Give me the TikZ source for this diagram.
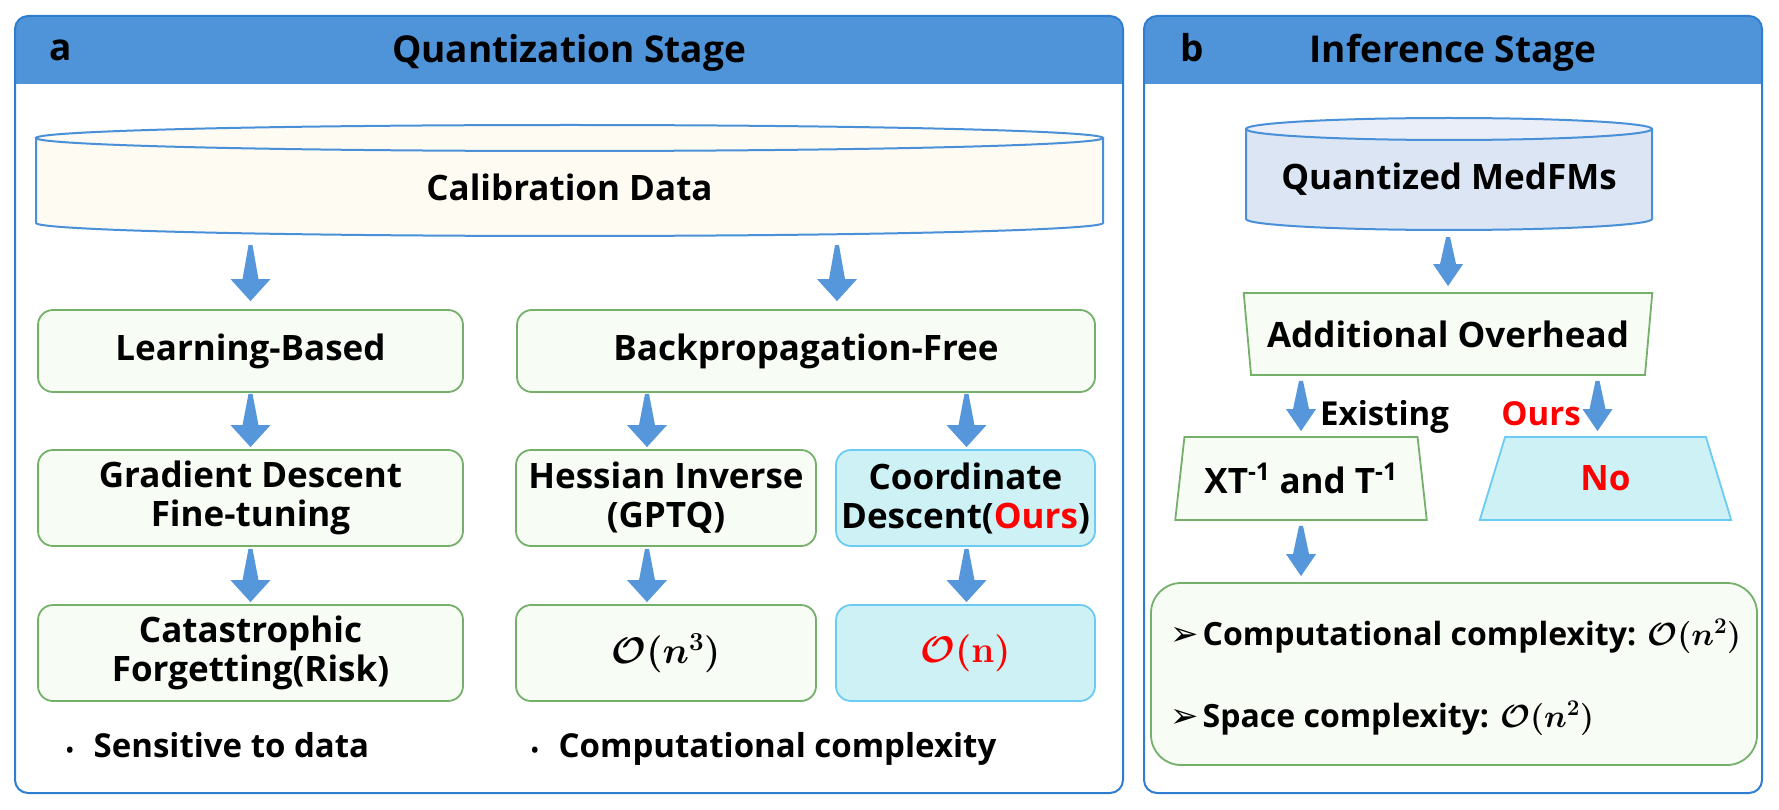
\RequirePackage{fix-cm}
\documentclass[tikz,border=0pt]{standalone}
\usepackage[no-math]{fontspec}
\setmainfont{Open Sans}
\newfontfamily\symfont{DejaVu Sans}
\usetikzlibrary{shapes.geometric,calc}

\definecolor{hdrblue}{HTML}{4F94D8}
\definecolor{frameblue}{HTML}{2E7DD0}
\definecolor{cylline}{HTML}{4A90D9}
\definecolor{calibfill}{HTML}{FEFBF3}
\definecolor{medfill}{HTML}{DBE5F4}
\definecolor{medtop}{HTML}{E9EEF8}
\definecolor{boxgreen}{HTML}{74B06A}
\definecolor{boxfill}{HTML}{F7FCF5}
\definecolor{cyanline}{HTML}{6CCBF2}
\definecolor{cyanfill}{HTML}{CDF1F4}
\definecolor{flowblue}{HTML}{5597DA}
\definecolor{oursred}{HTML}{FF0000}

\tikzset{
	panel/.style={draw=frameblue, line width=2pt, rounded corners=13pt},
	cyl/.style={draw=cylline, line width=2pt},
	txt/.style={font=\fontsize{35}{39}\selectfont\bfseries, align=center, inner sep=0pt},
	ttl/.style={font=\fontsize{37}{40}\selectfont\bfseries, inner sep=0pt, anchor=base},
	stagebox/.style={txt, draw=boxgreen, fill=boxfill, line width=1.8pt, rounded corners=15pt, minimum width=425pt, minimum height=96pt},
	oursbox/.style={stagebox, draw=cyanline, fill=cyanfill},
	trap/.style={txt, trapezium, trapezium left angle=76, trapezium right angle=76, trapezium stretches=true, minimum width=252pt, minimum height=83pt, draw=boxgreen, fill=boxfill, line width=1.8pt},
	itm/.style={font=\fontsize{33}{36}\selectfont\bfseries\boldmath, anchor=base west, inner sep=0pt},
	cost/.style={font=\fontsize{37}{40}\selectfont\boldmath},
}

\newcommand{\flow}[3][20pt]{%
	\fill[flowblue] let \p1=(#2), \p2=(#3) in
		(\x2-2pt,\y1) -- (\x2+2pt,\y1) -- (\x2+8pt,\y2+22pt) -- (\x2+#1,\y2+22pt)
		-- (\x2,\y2) -- (\x2-#1,\y2+22pt) -- (\x2-8pt,\y2+22pt) -- cycle;}
\newcommand{\tip}{{\symfont\fontsize{34}{34}\selectfont ➢}\hspace{4pt}}

\begin{document}
\begin{tikzpicture}[x=1pt, y=-1pt]
	\useasboundingbox (0,0) rectangle (1779,810);
	
	\fill[hdrblue] (15,84) [rounded corners=13pt] -- (15,16) -- (1123,16) [sharp corners] -- (1123,84) -- cycle;
	\draw[panel] (15,16) rectangle (1123,793);
	\node[ttl, anchor=base west] (la) at (49,61) {a};
	\node[ttl] (ta) at (569,63) {Quantization Stage};
	
	\fill[hdrblue] (1144,84) [rounded corners=13pt] -- (1144,16) -- (1762,16) [sharp corners] -- (1762,84) -- cycle;
	\draw[panel] (1144,16) rectangle (1762,793);
	\node[ttl, anchor=base west] (lb) at (1180,62) {b};
	\node[ttl] (tb) at (1453,63) {Inference Stage};
	
	\filldraw[cyl, fill=calibfill] (36,138) -- (36,223) arc[start angle=180, end angle=360, x radius=533.5pt, y radius=13pt] -- (1103,138) -- cycle;
	\filldraw[cyl, fill=calibfill] (569.5,138) ellipse[x radius=533.5pt, y radius=13pt];
	\node[inner sep=0pt, minimum width=1067pt, minimum height=112pt] (calib) at (569.5,181) {};
	\node[txt] (calibtxt) at ($(calib.center)+(0,6)$) {Calibration Data};
	
	\node[stagebox, minimum height=82pt] (learn) at (250.5,351) {Learning-Based};
	\node[stagebox, minimum width=578pt, minimum height=82pt] (bpf) at (806,351) {Backpropagation-Free};
	\node[stagebox] (grad) at (250.5,498) {Gradient Descent\\Fine-tuning};
	\node[stagebox, minimum width=300pt] (hess) at (666,498) {Hessian Inverse\\(GPTQ)};
	\node[oursbox, minimum width=259pt] (coord) at (965.5,498) {Coordinate\\Descent(\textcolor{oursred}{Ours})};
	\node[stagebox] (cata) at (250.5,653) {Catastrophic\\Forgetting(Risk)};
	\node[stagebox, minimum width=300pt, cost] (cubic) at (666,653) {$\mathcal{O}(n^3)$};
	\node[oursbox, minimum width=259pt, cost] (linear) at (965.5,653) {\textcolor{oursred}{$\mathcal{O}(\mathbf{n})$}};
	
	\flow{$(calib.south)+(0,8)$}{$(learn.north)+(0,-8)$}
	\flow{$(calib.south)+(0,8)$}{$(bpf.north)+(31,-8)$}
	\flow{$(learn.south)+(0,1)$}{$(grad.north)+(0,-2)$}
	\flow{$(bpf.south)+(0,1)$}{$(hess.north)+(-19,-2)$}
	\flow{$(bpf.south)+(0,1)$}{$(coord.north)+(1,-2)$}
	\flow{$(grad.south)+(0,2)$}{$(cata.north)+(0,-2)$}
	\flow{$(hess.south)+(0,2)$}{$(cubic.north)+(-19,-2)$}
	\flow{$(coord.south)+(0,2)$}{$(linear.north)+(1,-2)$}
	
	\node[itm] (sens) at (66,757) {{\fontsize{20}{20}\selectfont\textbullet}\hspace{20pt}Sensitive to data};
	\node[itm] (comp) at (531,757) {{\fontsize{20}{20}\selectfont\textbullet}\hspace{20pt}Computational complexity};
	
	\filldraw[cyl, fill=medfill] (1246,129) -- (1246,219) arc[start angle=180, end angle=360, x radius=203pt, y radius=11pt] -- (1652,129) -- cycle;
	\filldraw[cyl, fill=medtop] (1449,129) ellipse[x radius=203pt, y radius=11pt];
	\node[inner sep=0pt, minimum width=406pt, minimum height=113pt] (med) at (1449,173.5) {};
	\node[txt] (medtxt) at ($(med.center)+(0,6)$) {Quantized MedFMs};
	
	\node[trap, trapezium left angle=104, trapezium right angle=104, minimum width=410pt, minimum height=82pt] (over) at (1448,334) {Additional Overhead};
	\node[trap] (xt) at (1301,478.5) {XT\textsuperscript{-1} and T\textsuperscript{-1}};
	\node[trap, draw=cyanline, fill=cyanfill] (no) at (1605.5,478.5) {\textcolor{oursred}{No}};
	\node[stagebox, rounded corners=30pt, minimum width=606pt, minimum height=182pt] (costbox) at (1454,674) {};
	
	\flow[15pt]{$(med.south)+(0,7)$}{$(over.north)+(0,-6)$}
	\flow[15pt]{$(over.south)+(0,5)$}{$(xt.north)+(0,-5)$}
	\flow[15pt]{$(over.south)+(0,5)$}{$(no.north)+(-8,-5)$}
	\flow[15pt]{$(xt.south)+(0,5)$}{$(xt.south |- costbox.north)+(0,-6)$}
	
	\node[itm] (exist) at (1320,425) {Existing};
	\node[itm, anchor=base east, text=oursred] (ours) at (1581,425) {Ours};
	
	\node[itm, font=\fontsize{32}{36}\selectfont\bfseries\boldmath] (cline) at (1170,645) {\tip Computational complexity: $\mathcal{O}(n^2)$};
	\node[itm, font=\fontsize{32}{36}\selectfont\bfseries\boldmath] (sline) at (1170,727) {\tip Space complexity: $\mathcal{O}(n^2)$};
\end{tikzpicture}
\end{document}
